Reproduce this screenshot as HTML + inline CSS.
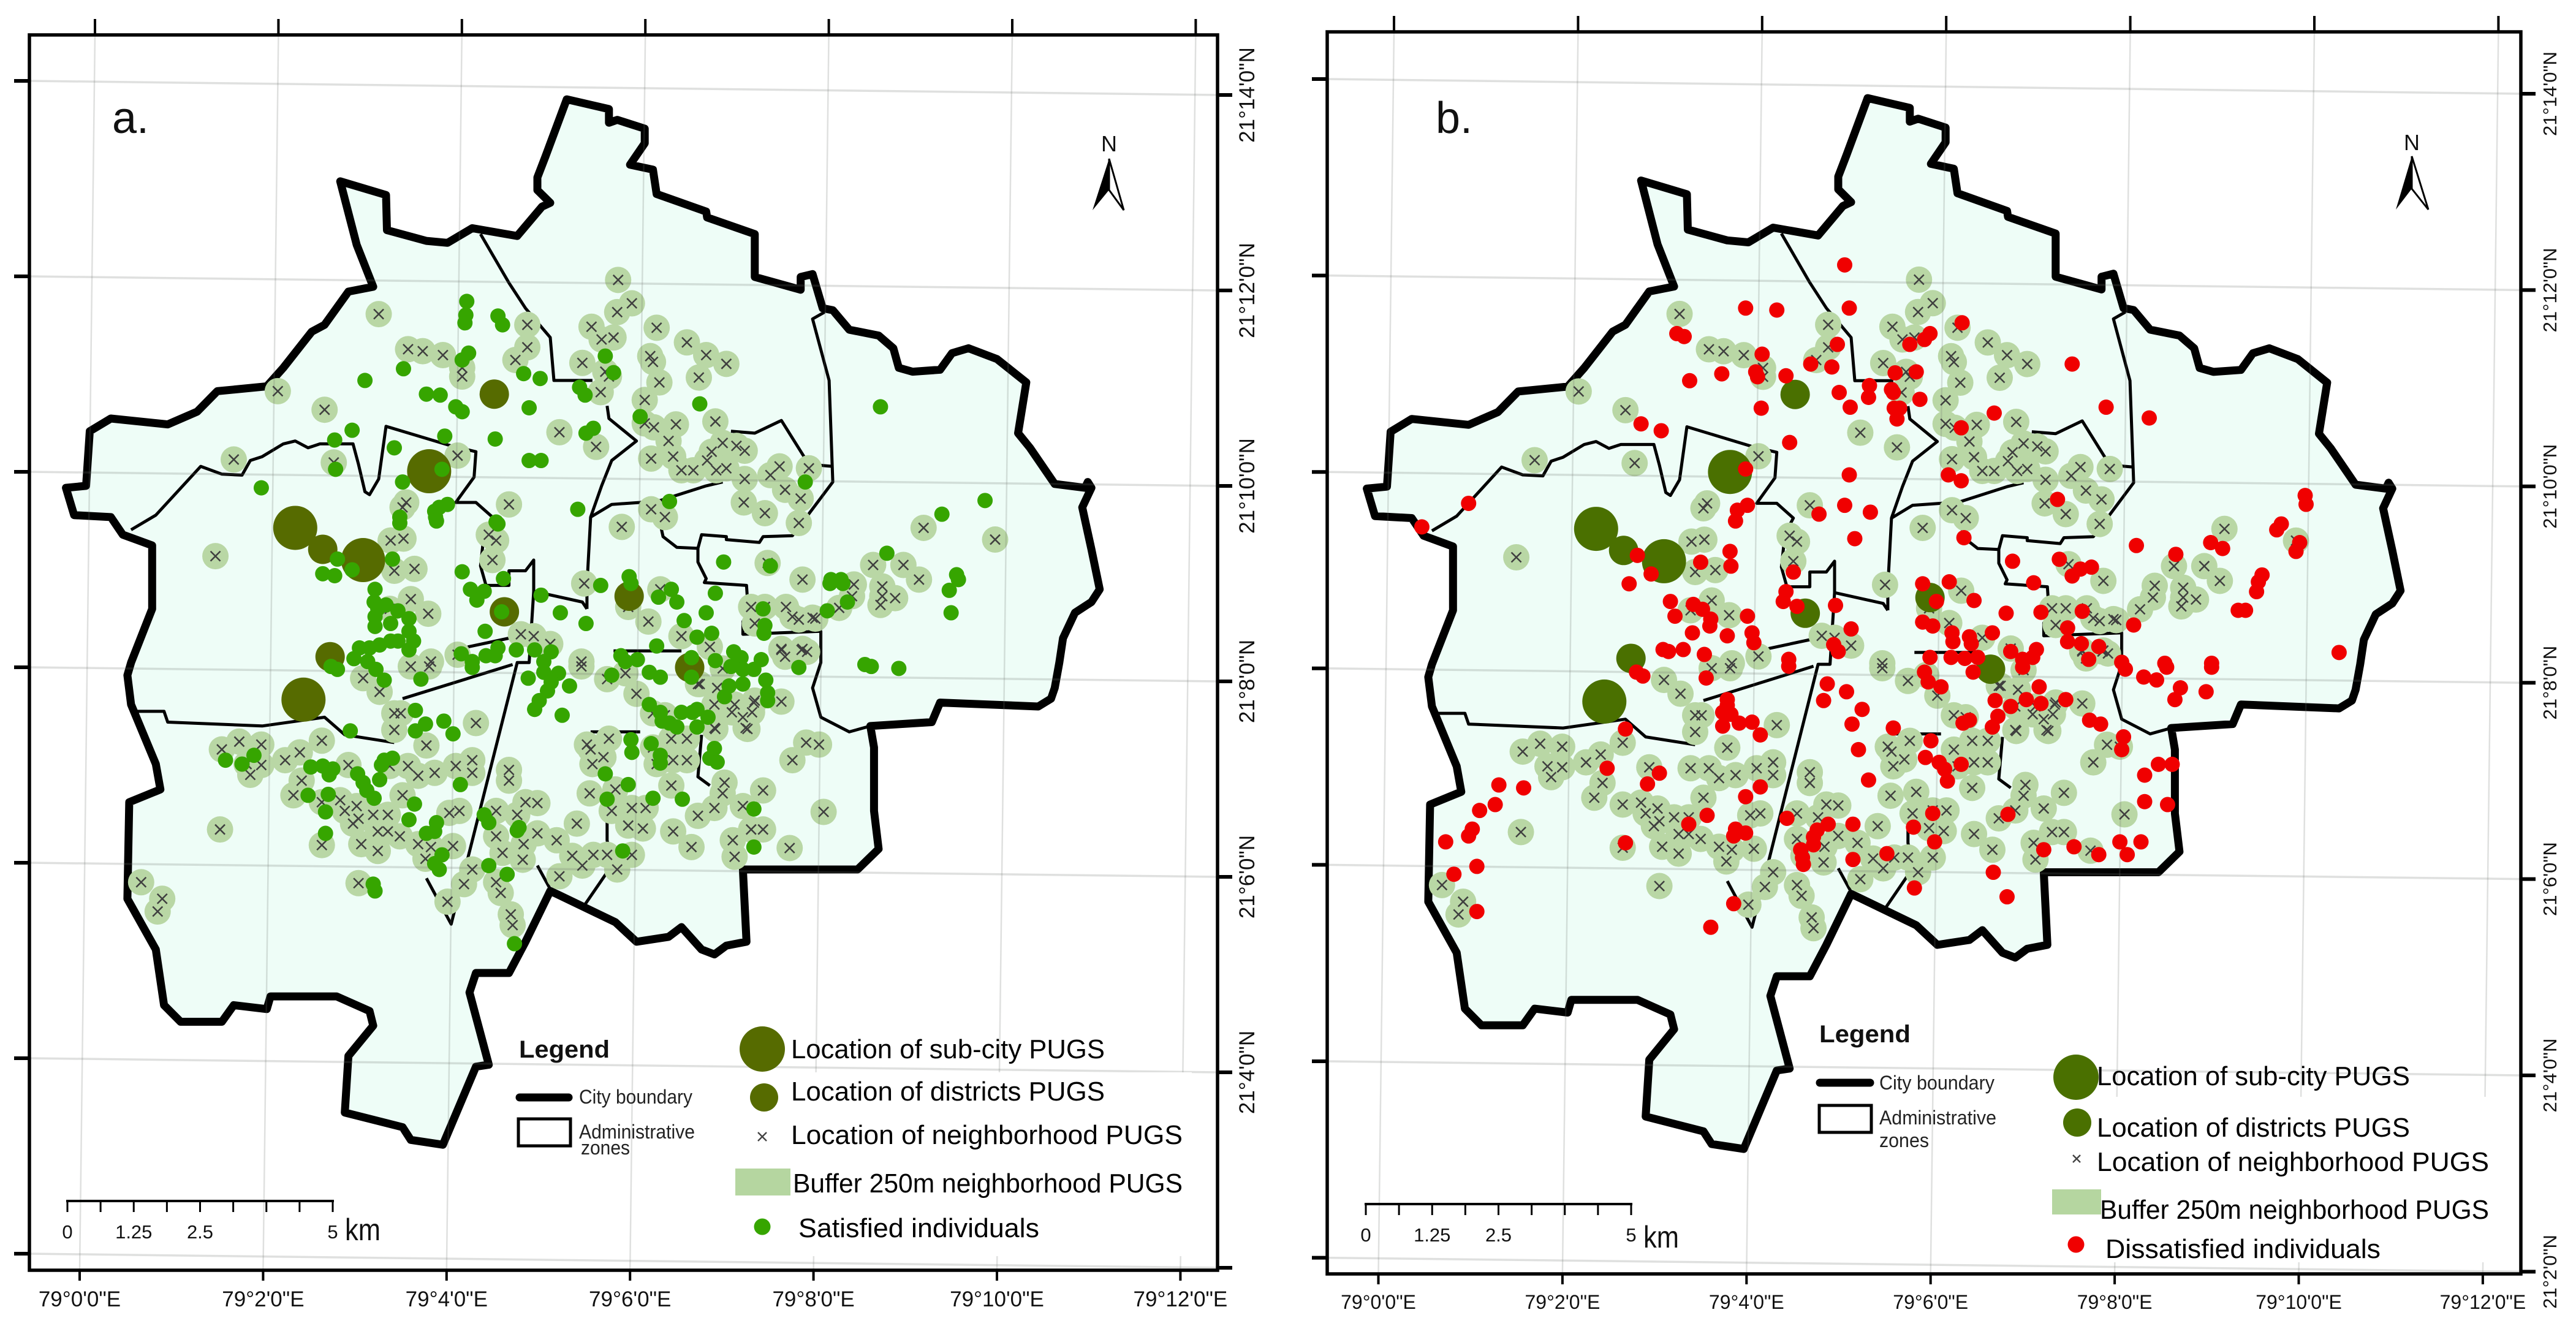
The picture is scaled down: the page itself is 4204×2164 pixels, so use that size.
<!DOCTYPE html>
<html lang="en">
<head>
<meta charset="utf-8">
<title>Satisfied and dissatisfied individuals relative to PUGS</title>
<style>
html,body{margin:0;padding:0;background:#fff;width:4204px;height:2164px;overflow:hidden}
svg{display:block}
text{font-family:"Liberation Sans",sans-serif;fill:#111}
.lg{font-size:44px;fill:#000}
.sm{font-size:32px;fill:#222}
.hd{font-size:40px;font-weight:bold;fill:#111}
.sc{font-size:31px;fill:#222}
</style>
</head>
<body>
<svg id="figure" xmlns="http://www.w3.org/2000/svg" width="4204" height="2164" viewBox="0 0 4204 2164">
<rect x="0" y="0" width="4204" height="2164" fill="#fff"/>
<g id="panel-a"></g>
<g id="panel-b"></g>

<g>
<text x="183" y="217" font-size="72" textLength="60" lengthAdjust="spacingAndGlyphs">a.</text>
<g>
<text x="1810" y="247" font-size="36" text-anchor="middle" textLength="26" lengthAdjust="spacingAndGlyphs">N</text>
<path d="M1810 259 L1783 343 L1810 310 Z" fill="#000"/>
<path d="M1810 259 L1834 343 L1810 310 Z" fill="#fff" stroke="#000" stroke-width="3"/>
</g>
<rect x="1190" y="1750" width="755" height="300" fill="#fff"/>
<text class="hd" x="847" y="1726" textLength="148" lengthAdjust="spacingAndGlyphs">Legend</text>
<line x1="848" y1="1791" x2="928" y2="1791" stroke="#000" stroke-width="13" stroke-linecap="round"/>
<text class="sm" x="945" y="1801" textLength="185" lengthAdjust="spacingAndGlyphs">City boundary</text>
<rect x="846" y="1826" width="85" height="44" fill="#fff" stroke="#000" stroke-width="5"/>
<text class="sm" x="945" y="1858" textLength="189" lengthAdjust="spacingAndGlyphs">Administrative</text>
<text class="sm" x="948" y="1884" textLength="80" lengthAdjust="spacingAndGlyphs">zones</text>
<circle cx="1244" cy="1712" r="37" fill="#566b00"/>
<text class="lg" x="1291" y="1727" textLength="512" lengthAdjust="spacingAndGlyphs">Location of sub-city PUGS</text>
<circle cx="1247" cy="1791" r="23" fill="#566b00"/>
<text class="lg" x="1291" y="1796" textLength="512" lengthAdjust="spacingAndGlyphs">Location of districts PUGS</text>
<path d="M1237 1848 L1251 1862 M1251 1848 L1237 1862" stroke="#444" stroke-width="2.4" fill="none"/>
<text class="lg" x="1291" y="1867" textLength="639" lengthAdjust="spacingAndGlyphs">Location of neighborhood PUGS</text>
<rect x="1200" y="1907" width="90" height="44" fill="#b5d6a0"/>
<text class="lg" x="1294" y="1946" textLength="636" lengthAdjust="spacingAndGlyphs">Buffer 250m neighborhood PUGS</text>
<circle cx="1244" cy="2002" r="13.5" fill="#36a500"/>
<text class="lg" x="1303" y="2019" textLength="393" lengthAdjust="spacingAndGlyphs">Satisfied individuals</text>
<text x="563" y="2024" font-size="50" textLength="58" lengthAdjust="spacingAndGlyphs">km</text>
</g>

<g>
<text x="2343" y="217" font-size="72" textLength="60" lengthAdjust="spacingAndGlyphs">b.</text>
<g>
<text x="3936" y="245" font-size="36" text-anchor="middle" textLength="26" lengthAdjust="spacingAndGlyphs">N</text>
<path d="M3936 255 L3910 342 L3936 308 Z" fill="#000"/>
<path d="M3936 255 L3963 342 L3936 308 Z" fill="#fff" stroke="#000" stroke-width="3"/>
</g>
<rect x="3340" y="1790" width="740" height="270" fill="#fff"/>
<text class="hd" x="2969" y="1701" textLength="149" lengthAdjust="spacingAndGlyphs">Legend</text>
<line x1="2970" y1="1767" x2="3052" y2="1767" stroke="#000" stroke-width="13" stroke-linecap="round"/>
<text class="sm" x="3067" y="1778" textLength="188" lengthAdjust="spacingAndGlyphs">City boundary</text>
<rect x="2969" y="1804" width="85" height="44" fill="#fff" stroke="#000" stroke-width="5"/>
<text class="sm" x="3067" y="1835" textLength="191" lengthAdjust="spacingAndGlyphs">Administrative</text>
<text class="sm" x="3067" y="1872" textLength="81" lengthAdjust="spacingAndGlyphs">zones</text>
<circle cx="3388" cy="1758" r="37" fill="#4a7000"/>
<text class="lg" x="3422" y="1771" textLength="511" lengthAdjust="spacingAndGlyphs">Location of sub-city PUGS</text>
<circle cx="3390" cy="1832" r="23" fill="#4a7000"/>
<text class="lg" x="3422" y="1855" textLength="511" lengthAdjust="spacingAndGlyphs">Location of districts PUGS</text>
<path d="M3383 1885 L3395 1897 M3395 1885 L3383 1897" stroke="#444" stroke-width="2.4" fill="none"/>
<text class="lg" x="3422" y="1911" textLength="640" lengthAdjust="spacingAndGlyphs">Location of neighborhood PUGS</text>
<rect x="3349" y="1941" width="80" height="41" fill="#b5d6a0"/>
<text class="lg" x="3427" y="1989" textLength="635" lengthAdjust="spacingAndGlyphs">Buffer 250m neighborhood PUGS</text>
<circle cx="3388" cy="2031" r="13.5" fill="#f00000"/>
<text class="lg" x="3436" y="2053" textLength="449" lengthAdjust="spacingAndGlyphs">Dissatisfied individuals</text>
<text x="2682" y="2036" font-size="50" textLength="58" lengthAdjust="spacingAndGlyphs">km</text>
</g>
</svg>

<script>
// ---- data: minutes past 79°E (first value) and minutes past 21°N (second value) ----
const lonTicks = [0,2,4,6,8,10,12];
const latTicks = [14,12,10,8,6,4,2];
const lonLabels = ['79°0\'0"E','79°2\'0"E','79°4\'0"E','79°6\'0"E','79°8\'0"E','79°10\'0"E','79°12\'0"E'];
const latLabels = ['21°14\'0"N','21°12\'0"N','21°10\'0"N','21°8\'0"N','21°6\'0"N','21°4\'0"N','21°2\'0"N'];
const scaleKm = [0,0.625,1.25,1.875,2.5,3.125,3.75,4.375,5];
const scaleLabels = [[0,'0'],[1.25,'1.25'],[2.5,'2.5'],[5,'5']];

const cityBoundary = [[5.23,13.88],[5.69,13.78],[5.69,13.64],[5.78,13.67],[6.08,13.58],[6.08,13.43],[5.92,13.21],[6.17,13.16],[6.21,12.91],[6.75,12.73],[6.76,12.67],[7.28,12.50],[7.28,12.06],[7.78,11.93],[7.78,12.06],[7.91,12.09],[8.02,11.74],[8.13,11.72],[8.31,11.52],[8.63,11.46],[8.79,11.33],[8.85,11.13],[9.00,11.09],[9.30,11.11],[9.43,11.28],[9.61,11.33],[9.92,11.22],[10.24,10.98],[10.15,10.46],[10.28,10.31],[10.55,9.94],[10.88,9.90],[10.91,9.96],[10.95,9.90],[10.85,9.70],[10.95,9.27],[11.04,8.86],[10.95,8.73],[10.77,8.62],[10.64,8.36],[10.60,8.11],[10.55,7.85],[10.51,7.74],[10.37,7.66],[9.30,7.70],[9.21,7.50],[8.54,7.46],[8.58,7.24],[8.58,6.59],[8.63,6.20],[8.40,5.99],[7.15,5.99],[7.19,5.25],[6.97,5.21],[6.84,5.12],[6.70,5.17],[6.48,5.40],[6.34,5.30],[5.99,5.25],[5.76,5.45],[5.14,5.73],[5.05,5.77],[4.78,5.25],[4.60,4.93],[4.24,4.93],[4.17,4.73],[4.38,3.99],[4.24,3.97],[3.88,3.17],[3.53,3.22],[3.44,3.35],[2.81,3.50],[2.85,4.08],[3.12,4.39],[3.08,4.54],[2.72,4.69],[2.00,4.69],[1.96,4.56],[1.60,4.60],[1.47,4.43],[1.02,4.43],[0.84,4.60],[0.75,5.17],[0.44,5.69],[0.46,6.68],[0.80,6.81],[0.75,7.07],[0.48,7.68],[0.44,7.98],[0.48,8.11],[0.71,8.66],[0.71,9.31],[0.39,9.42],[0.26,9.60],[-0.14,9.62],[-0.23,9.90],[-0.01,9.92],[0.03,10.48],[0.26,10.61],[0.88,10.55],[1.20,10.68],[1.42,10.89],[1.96,10.94],[2.14,11.13],[2.45,11.50],[2.59,11.57],[2.85,11.91],[3.12,11.96],[2.94,12.39],[2.76,13.04],[3.26,12.90],[3.27,12.54],[3.70,12.43],[3.93,12.41],[4.20,12.56],[4.69,12.48],[4.96,12.78],[5.05,12.82],[4.91,12.95],[4.91,13.08],[5.00,13.30]];

const adminZones = [
[[4.29,12.50],[4.60,12.00],[4.78,11.74],[5.05,11.44],[5.09,11.00],[5.51,11.00]],
[[5.67,10.74],[5.69,10.61],[5.99,10.38],[5.72,10.18],[5.61,9.92],[5.49,9.60],[5.45,8.90],[5.45,8.66]],
[[5.49,9.60],[5.72,9.73],[6.03,9.75],[6.25,9.77],[6.75,9.92],[6.93,9.96]],
[[6.25,9.75],[6.25,9.53],[6.28,9.40],[6.43,9.29],[6.66,9.28],[6.70,9.42],[6.97,9.40],[6.97,9.37],[7.33,9.34],[7.37,9.40],[7.69,9.41],[8.13,9.96],[8.09,11.00],[7.91,11.63],[8.04,11.70]],
[[7.02,10.48],[7.28,10.46],[7.57,10.59],[7.87,10.14],[8.13,10.12]],
[[6.66,9.28],[6.66,9.14],[6.75,8.97],[6.73,8.93],[7.19,8.90],[7.21,8.62],[7.15,8.53],[7.15,8.40],[8.00,8.43],[8.00,8.11],[7.91,7.85],[8.00,7.55],[8.31,7.40],[8.54,7.46]],
[[0.48,9.47],[0.75,9.62],[1.24,10.12],[1.47,10.04],[1.69,10.03],[1.78,10.18],[1.91,10.22],[2.14,10.35],[2.27,10.38],[2.41,10.31],[2.54,10.35],[2.76,10.35],[2.90,10.35],[2.96,10.14],[3.03,9.86],[3.08,9.83],[3.18,9.99],[3.26,10.53],[3.97,10.33],[4.24,10.27],[4.22,10.01],[4.02,9.75],[4.24,9.75],[4.42,9.60],[4.33,9.44],[4.29,9.10],[4.35,8.90],[4.60,8.90],[4.60,9.05],[4.78,9.05],[4.87,9.16],[4.87,8.84],[5.40,8.73],[5.45,8.66]],
[[4.87,8.84],[4.82,8.11],[4.69,8.11],[3.97,5.43],[3.70,5.90]],
[[3.44,7.74],[4.64,8.09]],
[[0.53,7.61],[0.84,7.61],[0.88,7.50],[1.91,7.46],[2.59,7.55],[2.81,7.37],[3.35,7.29]],
[[4.15,8.27],[4.60,8.36]],
[[5.74,8.23],[6.48,8.23]],
[[5.49,7.40],[6.03,7.40]],
[[6.70,7.37],[6.66,6.94],[6.79,6.85]],
[[4.91,6.03],[5.05,5.79]],
[[5.67,6.64],[5.67,6.29],[5.72,6.03],[5.42,5.62]]
];

const neighborhoodPugs = [[5.79,12.03],[5.94,11.79],[5.78,11.70],[3.18,11.68],[4.80,11.57],[5.50,11.55],[6.21,11.54],[5.61,11.42],[5.74,11.44],[6.54,11.39],[3.50,11.32],[3.66,11.30],[3.88,11.26],[4.80,11.34],[4.67,11.21],[6.14,11.25],[6.17,11.19],[6.75,11.26],[5.40,11.18],[6.97,11.17],[4.09,11.13],[4.09,11.04],[5.65,11.09],[5.69,11.04],[6.24,10.98],[6.67,11.03],[2.08,10.89],[5.60,10.88],[6.08,10.80],[2.59,10.70],[6.85,10.58],[6.08,10.56],[6.18,10.52],[6.42,10.55],[5.15,10.47],[5.55,10.32],[6.34,10.38],[6.93,10.36],[7.08,10.33],[7.17,10.28],[6.81,10.27],[6.15,10.20],[6.39,10.22],[1.60,10.19],[2.69,10.16],[4.04,10.23],[6.48,10.08],[6.61,10.08],[6.76,10.18],[6.86,10.08],[6.97,10.10],[7.55,10.12],[7.87,10.10],[7.45,10.03],[7.17,9.99],[7.61,9.88],[7.78,9.79],[4.60,9.73],[3.48,9.75],[3.44,9.70],[7.16,9.75],[6.15,9.68],[6.30,9.60],[7.39,9.64],[5.83,9.50],[7.76,9.54],[9.12,9.49],[4.38,9.42],[4.46,9.36],[3.31,9.36],[3.45,9.38],[9.90,9.37],[1.40,9.20],[4.42,9.16],[7.42,9.13],[8.57,9.11],[8.90,9.11],[3.57,9.07],[3.35,9.05],[9.07,8.96],[7.80,8.96],[5.42,8.92],[8.36,8.91],[8.67,8.89],[6.25,8.86],[8.67,8.79],[8.81,8.77],[8.34,8.79],[8.65,8.70],[3.53,8.76],[7.24,8.68],[7.39,8.68],[7.62,8.68],[5.90,8.68],[6.12,8.53],[7.69,8.58],[7.91,8.57],[7.76,8.55],[3.72,8.61],[3.30,8.66],[7.28,8.51],[4.73,8.40],[4.87,8.38],[5.05,8.30],[6.48,8.38],[6.79,8.27],[7.57,8.25],[7.80,8.25],[5.39,8.12],[3.75,8.12],[4.04,8.19],
[3.01,7.95],[3.19,7.81],[3.35,7.59],[3.42,7.59],[3.35,7.42],[4.24,7.49],[3.70,7.26],[1.47,7.22],[1.66,7.30],[1.90,7.27],[2.56,7.31],[2.16,7.11],[2.32,7.19],[1.74,7.07],[1.90,7.06],[1.78,6.96],[2.85,7.06],[3.30,7.05],[3.50,7.05],[3.61,6.95],[3.79,6.98],[4.02,7.05],[4.20,7.11],[4.20,6.98],[4.60,7.01],[4.60,6.90],[2.34,6.90],[2.25,6.75],[2.56,6.68],[2.76,6.70],[2.81,6.59],[2.94,6.64],[2.96,6.51],[3.12,6.55],[3.28,6.55],[2.90,6.46],[3.17,6.38],[3.28,6.38],[3.41,6.33],[2.99,6.25],[3.17,6.18],[3.61,6.25],[3.75,6.22],[3.69,6.10],[3.99,6.23],[3.95,6.57],[4.06,6.59],[3.44,6.75],[4.78,6.68],[4.91,6.67],[4.69,6.55],[4.46,6.59],[5.34,6.46],[4.91,6.36],[4.46,6.33],[4.53,6.16],[4.76,6.25],[4.75,6.09],[5.12,6.29],[5.29,6.13],[5.52,6.14],[5.67,6.14],[5.40,6.03],[5.94,6.14],[5.78,5.99],[5.15,5.92],[4.20,5.99],[4.11,5.84],[4.46,5.86],[4.51,5.75],[3.93,5.66],[4.62,5.53],[4.64,5.42],[2.96,5.85],[2.56,6.24],[1.45,6.40],[0.59,5.86],[0.82,5.69],[0.77,5.56],[5.45,7.27],[5.69,7.33],[5.49,7.22],[5.63,7.14],[5.51,7.07],[6.17,7.24],[6.37,7.33],[6.54,7.33],[6.39,7.11],[6.54,7.11],[6.21,7.07],[6.37,6.85],[5.48,6.77],[5.76,6.81],[5.72,6.59],[5.94,6.62],[6.09,6.62],[5.90,6.44],[6.06,6.41],[6.39,6.38],[6.59,6.22],[6.66,6.54],[6.84,6.62],[6.95,6.88],[6.93,6.77],[7.15,6.64],[7.37,6.80],[7.24,6.40],[7.37,6.40],[7.04,6.29],[7.06,6.12],[7.66,6.21],[8.03,6.58],[7.69,7.11],[7.84,7.29],[7.98,7.27],[7.18,7.44],[7.15,7.55],[6.84,7.44],[6.84,7.68],[7.06,7.68],[7.57,7.71],[7.28,7.72],[5.99,7.79],[5.87,8.00],[5.67,7.94],[5.39,8.07],[6.17,7.59],[6.30,7.57],[3.73,8.07],[3.53,8.07],[6.66,7.89],[6.93,8.05],
[7.03,7.60],[7.20,7.43],[7.25,7.60],[7.27,7.70],[6.85,7.43],[6.87,7.85],[6.68,7.89],[7.57,8.24],[7.61,8.17],[7.79,8.24],[7.85,8.22],[7.94,8.56],[8.20,8.67]];

const subCityPugs = [[2.27,9.49],[3.01,9.16],[3.73,10.07],[2.36,7.73]];
const districtPugs = [[2.57,9.27],[4.44,10.86],[4.55,8.63],[5.91,8.79],[2.65,8.17],[6.57,8.06]];

const satisfiedIndividuals = [[4.14,11.81],[4.13,11.67],[4.12,11.59],[4.48,11.66],[4.53,11.57],[4.16,11.28],[4.09,11.21],[3.45,11.12],[3.03,11.00],[4.76,11.07],[4.94,11.02],[5.65,11.25],[5.74,11.08],[5.37,10.93],[5.43,10.85],[3.70,10.86],[3.85,10.85],[4.02,10.73],[4.09,10.68],[4.82,10.72],[6.68,10.76],[8.65,10.73],[6.03,10.63],[2.89,10.49],[2.70,10.39],[3.90,10.43],[4.45,10.40],[5.52,10.51],[5.44,10.46],[3.35,10.31],[4.82,10.18],[4.95,10.18],[2.71,10.09],[3.87,10.09],[3.44,9.96],[1.90,9.90],[7.83,9.96],[3.93,9.73],[3.84,9.70],[3.79,9.66],[3.41,9.60],[3.80,9.60],[5.35,9.68],[6.35,9.76],[9.79,9.77],[9.32,9.63],[4.46,9.55],[8.72,9.23],[6.94,9.14],[7.45,9.10],[9.48,9.01],[8.11,8.96],[8.22,8.96],[9.50,8.96],[5.91,8.99],[9.40,8.85],[9.42,8.62],[8.85,8.05],[2.60,6.36],[3.70,6.36],[3.79,6.38],[4.69,6.39],[3.87,6.14],[3.79,6.05],[3.84,5.99],[4.58,5.94],[4.38,6.03],[3.12,5.84],[3.14,5.77],[4.66,5.23],[1.51,7.11],[1.69,7.07],[1.82,7.16],
[3.13,8.73],[3.17,8.66],[3.26,8.70],[3.14,8.58],[3.14,8.48],[3.31,8.51],[3.39,8.64],[3.51,8.56],[3.51,8.43],[3.56,8.33],[3.51,8.24],[3.39,8.33],[3.31,8.33],[3.19,8.29],[3.08,8.26],[2.97,8.26],[2.91,8.15],[3.06,8.12],[3.15,8.04],[3.24,7.93],[2.66,8.07],[2.73,8.04],[3.14,8.86],[3.33,9.17],[2.73,9.17],[2.70,9.00],[2.57,9.02],[2.89,9.06],[4.09,9.04],[4.18,8.86],[4.33,8.84],[4.25,8.75],[4.54,8.97],[4.95,8.80],[5.16,8.62],[4.52,8.63],[4.34,8.43],[4.08,8.20],[4.20,8.12],[4.20,8.06],[4.35,8.18],[4.48,8.26],[4.45,8.18],[4.68,8.24],[4.88,8.24],[5.06,8.22],[4.98,8.12],[4.98,8.01],[4.81,7.95],[5.14,8.00],[5.06,7.91],[5.02,7.82],[4.93,7.72],[4.88,7.63],[5.26,7.87],[5.18,7.57],[3.64,7.94],[3.58,7.62],[3.69,7.48],[3.58,7.41],[3.89,7.51],[3.99,7.38],[2.87,7.41],[3.24,7.11],[3.33,7.13],[3.21,7.06],[3.19,6.91],[2.44,7.04],[2.57,7.05],[2.68,7.02],[2.64,6.96],[2.95,6.97],[3.01,6.88],[3.05,6.80],[3.13,6.72],[2.41,6.75],[2.63,6.76],[2.60,6.58],[4.07,6.86],[3.57,6.66],[3.51,6.50],[3.81,6.47],[4.33,6.55],[4.38,6.47],[3.41,9.54],[3.81,9.56],[4.48,9.53],[4.71,6.42],
[5.60,8.90],[5.93,8.92],[6.23,8.78],[6.37,8.86],[6.43,8.73],[6.85,8.82],[6.75,8.62],[5.44,8.51],[6.51,8.54],[6.81,8.41],[6.65,8.37],[6.21,8.28],[6.59,8.16],[6.59,7.96],[5.82,8.18],[5.87,8.12],[6.00,8.14],[5.72,7.98],[6.13,8.01],[6.25,7.96],[6.85,8.13],[7.05,8.22],[7.13,8.16],[7.02,8.07],[7.15,8.04],[7.27,8.04],[7.35,8.14],[7.15,7.89],[7.00,7.87],[6.95,7.76],[7.40,7.93],[7.42,7.80],[7.42,7.72],[7.37,8.66],[7.39,8.49],[7.38,8.41],[8.07,8.64],[8.29,8.73],[8.10,8.92],[8.24,8.92],[7.76,8.06],[8.48,8.09],[8.55,8.07],[6.13,7.68],[6.25,7.60],[6.27,7.51],[6.35,7.49],[6.43,7.45],[6.48,7.60],[6.60,7.60],[6.65,7.63],[6.77,7.55],[6.65,7.45],[5.93,7.32],[5.94,7.19],[6.15,7.28],[6.25,7.16],[6.25,7.08],[6.84,7.23],[6.79,7.13],[6.87,7.09],[5.65,6.97],[5.90,6.86],[5.67,6.71],[6.17,6.72],[6.49,6.71],[7.27,6.61],[7.27,6.22],[5.84,6.18]];

const dissatisfiedIndividuals = [[4.98,12.18],[5.03,11.74],[3.90,11.74],[4.24,11.72],[6.26,11.59],[3.15,11.48],[3.23,11.45],[5.91,11.48],[5.85,11.42],[5.69,11.37],[4.90,11.37],[4.08,11.27],[4.61,11.17],[4.84,11.14],[7.46,11.17],[5.53,11.08],[5.76,11.09],[4.01,11.09],[4.03,11.04],[4.34,11.05],[3.64,11.07],[3.29,11.00],[5.25,10.95],[5.24,10.83],[4.92,10.88],[5.49,10.91],[5.51,10.88],[5.80,10.81],[5.04,10.73],[4.07,10.72],[5.52,10.72],[5.58,10.72],[5.55,10.61],[7.83,10.73],[6.61,10.67],[8.30,10.62],[2.76,10.56],[2.98,10.49],[6.25,10.52],[4.38,10.37],[3.90,10.10],[5.03,10.04],[6.11,10.04],[6.25,9.98],[7.30,9.79],[10.00,9.83],[10.01,9.74],[0.88,9.75],[0.37,9.51],[4.98,9.73],[3.92,9.73],[3.81,9.68],[3.79,9.57],[4.70,9.64],[5.26,9.66],[9.74,9.54],[9.69,9.48],[5.09,9.39],[6.28,9.40],[8.16,9.32],[8.97,9.35],[9.10,9.29],[9.94,9.35],[9.90,9.26],[8.59,9.23],[2.72,9.22],[3.73,9.26],[3.74,9.11],[3.41,9.15],[7.32,9.18],[6.81,9.16],[2.87,9.03],[2.63,8.93],[4.42,9.05],[7.46,9.01],[7.55,9.08],[7.67,9.10],[9.53,9.02],[9.49,8.95],[9.47,8.85],[7.04,8.94],[5.83,8.93],[6.12,8.95],[4.34,8.85],[4.31,8.75],[5.98,8.75],[6.39,8.76],[3.08,8.75],[3.33,8.72],[3.43,8.67],[4.46,8.70],[4.88,8.71],[7.12,8.64],[6.74,8.63],[7.57,8.65],[9.27,8.66],[9.35,8.66],[3.13,8.60],[3.52,8.57],[3.92,8.60],[3.51,8.50],[5.83,8.54],[5.94,8.50],[7.41,8.48],[8.13,8.51],[5.05,8.47],[6.15,8.43],[3.32,8.43],[3.70,8.40],[3.97,8.43],[3.99,8.33],[6.16,8.34],[6.34,8.39],[6.36,8.32],[6.59,8.43],[7.41,8.34],[7.56,8.32],[7.75,8.29],[10.37,8.23],[4.86,8.31],[4.91,8.24],[3.00,8.26],[3.06,8.24],[3.22,8.26],[3.45,8.21],[6.79,8.24],[7.07,8.26],[7.64,8.16],[5.91,8.18],[6.14,8.18],[6.29,8.17],[6.43,8.18],[4.37,8.16],[8.00,8.13],[8.47,8.12],[8.98,8.12],[6.92,8.16],[7.03,8.18],
[2.71,8.03],[2.78,7.99],[3.47,7.97],[4.37,8.09],[4.79,7.91],[4.75,7.74],[5.00,7.83],[5.17,7.65],[5.06,7.50],[5.51,7.46],[5.85,8.03],[5.89,7.93],[6.03,7.88],[6.38,8.03],[6.92,8.08],[7.10,7.88],[6.96,7.75],[7.12,7.71],[6.62,7.74],[6.79,7.68],[6.65,7.58],[6.59,7.47],[6.34,7.54],[6.27,7.51],[7.39,7.75],[7.65,7.54],[7.77,7.50],[8.04,8.06],[8.24,7.98],[8.38,7.95],[8.49,8.08],[8.98,8.08],[8.64,7.87],[8.58,7.75],[8.92,7.83],[8.02,7.37],[8.00,7.24],[8.40,7.09],[8.25,6.98],[8.55,7.09],[8.25,6.71],[8.50,6.68],[3.70,7.75],[3.70,7.69],[3.65,7.62],[3.74,7.60],[3.65,7.48],[3.83,7.51],[3.97,7.52],[4.06,7.39],[2.59,7.45],[5.92,7.33],[5.13,7.24],[5.86,7.16],[6.01,7.11],[6.25,7.09],[6.07,7.04],[6.10,6.92],[5.24,6.93],[2.39,7.05],[2.96,7.00],[2.83,6.89],[4.06,6.86],[3.90,6.76],[1.21,6.88],[1.48,6.85],[1.17,6.68],[1.00,6.62],[0.92,6.43],[0.88,6.36],[0.63,6.30],[0.97,6.05],[0.72,5.97],[0.97,5.59],[3.48,6.57],[3.28,6.48],[4.35,6.54],[3.79,6.43],[3.77,6.36],[3.90,6.39],[2.59,6.29],[4.80,6.48],[4.68,6.42],[4.64,6.35],[4.64,6.27],[4.50,6.22],[4.52,6.14],[4.53,6.07],[5.07,6.48],[5.07,6.12],[5.44,6.18],[5.73,6.45],[5.94,6.59],[5.96,6.30],[6.76,6.58],[7.15,6.22],[7.48,6.25],[7.75,6.17],[7.98,6.30],[8.06,6.17],[8.21,6.30],[6.60,5.99],[6.75,5.74],[5.74,5.83],[3.77,5.67],[3.52,5.43]];

// ---- layout and axis functions ----
const NS = 'http://www.w3.org/2000/svg';
function make(parent, tag, attrs) {
  const node = document.createElementNS(NS, tag);
  for (const k in attrs) node.setAttribute(k, attrs[k]);
  parent.appendChild(node);
  return node;
}
const mapXa = lon => 142 + 149.7 * lon;
const mapYa = lat => 143 + (14 - lat) * 159.3;

const layoutA = {
  root: document.getElementById('panel-a'),
  frame: {l:48, r:1987, t:57, b:2073},
  x: mapXa,
  y: mapYa,
  topX: lon => 155 + 149.7 * lon,
  bottomX: lon => 130 + 149.7 * lon,
  leftY: lat => 132 + (14 - lat) * 159.5,
  rightY: lat => 155 + (14 - lat) * 159.5,
  lonSize: 35, latSize: 35, latBase: 2047,
  lonBase: 2132,
  maxLabelled: 6,
  bigFill: '#566b00',
  dots: satisfiedIndividuals,
  dotFill: '#36a500',
  dotName: 'satisfied-individual',
  scaleX0: 110, scaleY: 1960, scaleLabelY: 2021
};
const layoutB = {
  root: document.getElementById('panel-b'),
  frame: {l:2166, r:4114, t:52, b:2079},
  x: lon => mapXa(lon) + 2123,
  y: lat => 160 + (mapYa(lat) - 162) * 1.0052,
  topX: lon => 2275 + 150.2 * lon,
  bottomX: lon => 2249.5 + 150.2 * lon,
  leftY: lat => 129 + (14 - lat) * 160.3,
  rightY: lat => 153 + (14 - lat) * 160.2,
  lonSize: 32, latSize: 31, latBase: 4172,
  lonBase: 2136,
  maxLabelled: 7,
  bigFill: '#4a7000',
  dots: dissatisfiedIndividuals,
  dotFill: '#f00000',
  dotName: 'dissatisfied-individual',
  scaleX0: 2229, scaleY: 1965, scaleLabelY: 2026
};

function drawPanel(p) {
  const f = p.frame;
  const g = p.root;

  const toPath = pts => pts.map((c, i) => (i ? 'L' : 'M') + p.x(c[0]).toFixed(1) + ' ' + p.y(c[1]).toFixed(1)).join(' ');

  const city = make(g, 'path', {d:toPath(cityBoundary) + ' Z', fill:'#eefdf7', stroke:'#000', 'stroke-width':13, 'stroke-linejoin':'round'});
  
  

  adminZones.forEach(z => {
    const zone = make(g, 'path', {d:toPath(z), fill:'none', stroke:'#000', 'stroke-width':5, 'stroke-linejoin':'round'});
    
    
  });

  neighborhoodPugs.forEach(c => {
    const buffer = make(g, 'circle', {cx:p.x(c[0]), cy:p.y(c[1]), r:21.5, fill:'#b9d7a5'});
    
    
  });

  lonTicks.forEach(lon => {
    const line = make(g, 'line', {x1:p.topX(lon), y1:f.t, x2:p.bottomX(lon), y2:f.b, stroke:'rgba(110,115,110,0.22)', 'stroke-width':2.5});
    
    
  });
  latTicks.forEach(lat => {
    const line = make(g, 'line', {x1:f.l, y1:p.leftY(lat), x2:f.r, y2:p.rightY(lat), stroke:'rgba(110,115,110,0.22)', 'stroke-width':3.5});
    
    
  });

  neighborhoodPugs.forEach(c => {
    const cx = p.x(c[0]), cy = p.y(c[1]);
    const mark = make(g, 'path', {d:`M${cx-8} ${cy-8} L${cx+8} ${cy+8} M${cx+8} ${cy-8} L${cx-8} ${cy+8}`, stroke:'#3f3f3f', 'stroke-width':2.5, fill:'none'});
    
    
  });

  subCityPugs.forEach(c => {
    const big = make(g, 'circle', {cx:p.x(c[0]), cy:p.y(c[1]), r:36, fill:p.bigFill});
    
    
  });
  districtPugs.forEach(c => {
    const mid = make(g, 'circle', {cx:p.x(c[0]), cy:p.y(c[1]), r:24, fill:p.bigFill});
    
    
  });

  p.dots.forEach(c => {
    const dot = make(g, 'circle', {cx:p.x(c[0]), cy:p.y(c[1]), r:12.5, fill:p.dotFill});
    
    
  });

  const frame = make(g, 'rect', {x:f.l, y:f.t, width:f.r - f.l, height:f.b - f.t, fill:'none', stroke:'#000', 'stroke-width':5.5});
  
  

  lonTicks.forEach((lon, i) => {
    const top = make(g, 'line', {x1:p.topX(lon), y1:f.t - 26, x2:p.topX(lon), y2:f.t, stroke:'#000', 'stroke-width':4});
    
    
    const bottom = make(g, 'line', {x1:p.bottomX(lon), y1:f.b, x2:p.bottomX(lon), y2:f.b + 17, stroke:'#000', 'stroke-width':4});
    
    
    const label = make(g, 'text', {x:p.bottomX(lon), y:p.lonBase, 'text-anchor':'middle', 'font-size':p.lonSize, fill:'#333'});
    label.textContent = lonLabels[i];
    
    
  });

  latTicks.forEach((lat, i) => {
    const left = make(g, 'line', {x1:f.l - 25, y1:p.leftY(lat), x2:f.l, y2:p.leftY(lat), stroke:'#000', 'stroke-width':6});
    
    
    const right = make(g, 'line', {x1:f.r, y1:p.rightY(lat), x2:f.r + 24, y2:p.rightY(lat), stroke:'#000', 'stroke-width':6});
    
    
    if (i < p.maxLabelled) {
      const ry = p.rightY(lat);
      const label = make(g, 'text', {x:p.latBase, y:ry, 'text-anchor':'middle', 'font-size':p.latSize, fill:'#333', transform:`rotate(-90 ${p.latBase} ${ry})`});
      label.textContent = latLabels[i];
      
      
    }
  });

  const kmX = km => p.scaleX0 + km * 86.6;
  const bar = make(g, 'line', {x1:kmX(0) - 2, y1:p.scaleY, x2:kmX(5) + 2, y2:p.scaleY, stroke:'#000', 'stroke-width':4});
  
  
  scaleKm.forEach(km => {
    const tick = make(g, 'line', {x1:kmX(km), y1:p.scaleY, x2:kmX(km), y2:p.scaleY + 18, stroke:'#000', 'stroke-width':3});
    
    
  });
  scaleLabels.forEach(s => {
    const label = make(g, 'text', {x:kmX(s[0]), y:p.scaleLabelY, 'text-anchor':'middle', 'font-size':31, fill:'#222'});
    label.textContent = s[1];
    
    
  });
}
drawPanel(layoutA);
drawPanel(layoutB);
</script>
</body>
</html>
